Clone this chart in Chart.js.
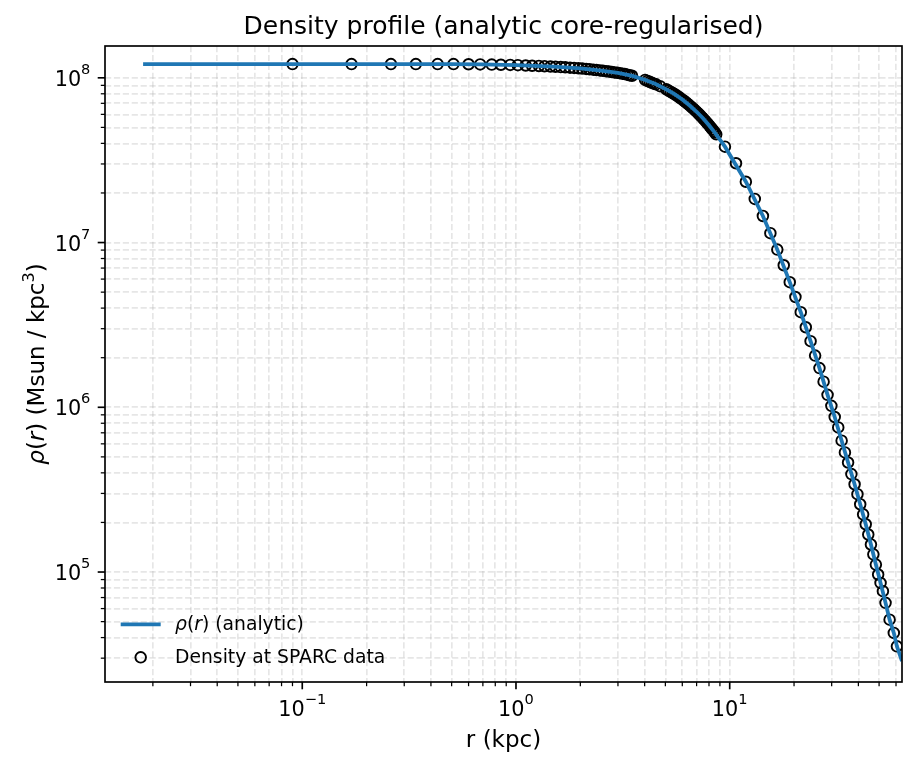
<!DOCTYPE html>
<html>
<head>
<meta charset="utf-8">
<title>Density profile</title>
<script src="https://cdn.jsdelivr.net/npm/chart.js@4.4.0/dist/chart.umd.min.js"></script>
<style>
  html, body { margin: 0; padding: 0; background: #fff; }
  #wrap { width: 917px; height: 767px; }
</style>
</head>
<body>
<div id="wrap"><canvas id="densityChart" width="917" height="767"></canvas></div>
<script>
// analytic rho(r) (kpc, Msun/kpc^3)
const lineR = [0.018, 0.1, 0.5, 0.7, 1.0, 1.5, 2.0, 2.5, 3.0, 3.5, 4.0, 4.5, 5.0, 5.5, 6.0, 6.5, 7.0, 7.5, 8.0, 8.5, 9.0,
    9.5, 11.9, 14.3, 16.7, 19.1, 21.5, 23.9, 26.3, 28.7, 31.0, 33.4, 35.8, 38.4, 40.8, 43.3, 45.8, 48.3, 50.8, 53.6, 56.0, 58.6, 60.6, 64.0];
const lineRho = [1.211e8, 1.211e8, 1.211e8, 1.205e8, 1.194e8, 1.169e8, 1.140e8, 1.107e8, 1.072e8, 1.028e8, 9.73e7, 9.16e7, 8.57e7, 7.98e7, 7.38e7, 6.79e7, 6.22e7, 5.68e7, 5.15e7, 4.66e7, 4.21e7,
    3.82e7, 2.34e7, 1.45e7, 9.06e6, 5.75e6, 3.78e6, 2.52e6, 1.73e6, 1.19e6, 8.73e5, 6.27e5, 4.62e5, 3.41e5, 2.58e5, 1.95e5, 1.47e5, 1.11e5, 8.59e4, 6.50e4, 5.14e4, 4.27e4, 3.54e4, 2.88e4];

// density at the SPARC radii
const dataR = [0.09, 0.17, 0.26, 0.34, 0.43, 0.51, 0.60, 0.68, 0.77, 0.85, 0.94, 1.02, 1.11, 1.19, 1.28, 1.36, 1.45, 1.53, 1.62, 1.70,
    1.79, 1.87, 1.96, 2.04, 2.13, 2.21, 2.30, 2.38, 2.47, 2.55, 2.64, 2.72, 2.81, 2.89, 2.98, 3.06, 3.15, 3.23, 3.32, 3.40, 3.49,
    4.02, 4.12, 4.22, 4.32, 4.42, 4.52, 4.72, 5.05, 5.17, 5.29, 5.41, 5.53, 5.65, 5.77, 5.89, 6.01, 6.13, 6.25, 6.37, 6.49, 6.61,
    6.73, 6.85, 6.97, 7.09, 7.21, 7.33, 7.45, 7.57, 7.69, 7.81, 7.93, 8.05, 8.17, 8.29, 8.41, 8.53, 8.65,
    9.5, 10.7, 11.9, 13.1, 14.3, 15.5, 16.7, 17.9, 19.1, 20.3, 21.5, 22.7, 23.9, 25.1, 26.3, 27.5, 28.7, 29.9, 31.0, 32.2,
    33.4, 34.6, 35.8, 37.1, 38.4, 39.6, 40.8, 42.1, 43.3, 44.5, 45.8, 47.0, 48.3, 49.5, 50.8, 52.1, 53.6, 56.0, 58.6, 60.6];
const dataRho = [1.211e8, 1.211e8, 1.211e8, 1.211e8, 1.211e8, 1.211e8, 1.209e8, 1.206e8, 1.203e8, 1.200e8, 1.197e8, 1.193e8, 1.188e8, 1.184e8, 1.180e8, 1.176e8, 1.171e8, 1.167e8, 1.162e8, 1.158e8,
    1.153e8, 1.148e8, 1.142e8, 1.138e8, 1.132e8, 1.127e8, 1.121e8, 1.115e8, 1.109e8, 1.103e8, 1.097e8, 1.091e8, 1.085e8, 1.079e8, 1.073e8, 1.067e8, 1.060e8, 1.053e8, 1.045e8, 1.037e8, 1.029e8,
    9.71e7, 9.58e7, 9.45e7, 9.33e7, 9.21e7, 9.13e7, 8.90e7, 8.51e7, 8.37e7, 8.23e7, 8.09e7, 7.95e7, 7.81e7, 7.66e7, 7.51e7, 7.37e7, 7.23e7, 7.08e7, 6.94e7, 6.80e7, 6.66e7,
    6.52e7, 6.39e7, 6.25e7, 6.12e7, 5.99e7, 5.86e7, 5.73e7, 5.60e7, 5.48e7, 5.35e7, 5.23e7, 5.10e7, 4.99e7, 4.87e7, 4.76e7, 4.65e7, 4.54e7,
    3.82e7, 3.03e7, 2.34e7, 1.84e7, 1.45e7, 1.14e7, 9.06e6, 7.28e6, 5.75e6, 4.67e6, 3.78e6, 3.06e6, 2.52e6, 2.06e6, 1.73e6, 1.43e6, 1.19e6, 1.02e6, 8.73e5, 7.55e5,
    6.27e5, 5.32e5, 4.62e5, 3.93e5, 3.41e5, 2.97e5, 2.58e5, 2.24e5, 1.95e5, 1.69e5, 1.47e5, 1.28e5, 1.11e5, 9.66e4, 8.59e4, 7.65e4, 6.50e4, 5.14e4, 4.27e4, 3.54e4];

// axes
const xMin = 0.01194, xMax = 64.0;
const yMin = 2.15e4, yMax = 1.56e8;
const xMajor = [0.1, 1, 10];
const xExponents = ['−1', '0', '1'];
const xMinor = [0.02, 0.03, 0.04, 0.05, 0.06, 0.07, 0.08, 0.09, 0.2, 0.3, 0.4, 0.5, 0.6, 0.7, 0.8, 0.9,
    2, 3, 4, 5, 6, 7, 8, 9, 20, 30, 40, 50, 60];
const yMajor = [1e5, 1e6, 1e7, 1e8];
const yExponents = ['5', '6', '7', '8'];
const yMinor = [3e4, 4e4, 5e4, 6e4, 7e4, 8e4, 9e4, 2e5, 3e5, 4e5, 5e5, 6e5, 7e5, 8e5, 9e5,
    2e6, 3e6, 4e6, 5e6, 6e6, 7e6, 8e6, 9e6, 2e7, 3e7, 4e7, 5e7, 6e7, 7e7, 8e7, 9e7];

const FAMILY = "'DejaVu Sans', sans-serif";
const font = (size, italic) => (italic ? 'italic ' : '') + size + 'px ' + FAMILY;
const BLUE = '#1f77b4';
const gridColor = 'rgba(176,176,176,0.32)';

// text made of several runs (italic / superscript parts)
function runsWidth(ctx, runs) {
    let w = 0;
    runs.forEach(r => { ctx.font = r.font; w += ctx.measureText(r.text).width; });
    return w;
}
function drawRuns(ctx, runs, x, y) {
    runs.forEach(r => {
        ctx.font = r.font;
        ctx.fillText(r.text, x, y - (r.rise || 0));
        x += ctx.measureText(r.text).width;
    });
}
const power = e => [{ text: '10', font: font(20.8) }, { text: e, font: font(14.6), rise: 12 }];

const decor = {
    id: 'decor',
    afterDraw(chart) {
        const { ctx, chartArea: a, scales: { x, y } } = chart;
        ctx.save();
        ctx.strokeStyle = '#000';
        ctx.fillStyle = '#000';
        ctx.textAlign = 'left';
        ctx.textBaseline = 'alphabetic';

        // tick marks, outward
        const tick = (scale, v, len, w) => {
            const p = scale.getPixelForValue(v);
            ctx.lineWidth = w;
            ctx.beginPath();
            if (scale.isHorizontal()) { ctx.moveTo(p, a.bottom); ctx.lineTo(p, a.bottom + len); }
            else { ctx.moveTo(a.left, p); ctx.lineTo(a.left - len, p); }
            ctx.stroke();
        };
        xMinor.forEach(v => tick(x, v, 4.2, 1.25));
        yMinor.forEach(v => tick(y, v, 4.2, 1.25));
        xMajor.forEach(v => tick(x, v, 7.3, 1.67));
        yMajor.forEach(v => tick(y, v, 7.3, 1.67));

        // tick labels 10^n
        xMajor.forEach((v, i) => {
            const runs = power(xExponents[i]);
            drawRuns(ctx, runs, x.getPixelForValue(v) - runsWidth(ctx, runs) / 2, a.bottom + 34);
        });
        yMajor.forEach((v, i) => {
            const runs = power(yExponents[i]);
            drawRuns(ctx, runs, a.left - 14.6 - runsWidth(ctx, runs), y.getPixelForValue(v) + 8);
        });

        // frame
        ctx.lineWidth = 1.67;
        ctx.strokeRect(a.left, a.top, a.right - a.left, a.bottom - a.top);

        // title
        ctx.font = font(25);
        ctx.textAlign = 'center';
        ctx.fillText('Density profile (analytic core-regularised)', (a.left + a.right) / 2, a.top - 12.5);
        ctx.textAlign = 'left';

        // y label
        const yl = [
            { text: 'ρ', font: font(23, true) },
            { text: '(', font: font(23) },
            { text: 'r', font: font(23, true) },
            { text: ') (Msun / kpc', font: font(23) },
            { text: '3', font: font(16.1), rise: 10 },
            { text: ')', font: font(23) }
        ];
        ctx.save();
        ctx.translate(44, (a.top + a.bottom) / 2);
        ctx.rotate(-Math.PI / 2);
        drawRuns(ctx, yl, -runsWidth(ctx, yl) / 2, 0);
        ctx.restore();

        // legend
        ctx.strokeStyle = BLUE;
        ctx.lineWidth = 3.8;
        ctx.beginPath();
        ctx.moveTo(120.7, 624.3); ctx.lineTo(160.7, 624.3);
        ctx.stroke();
        ctx.strokeStyle = '#000';
        ctx.lineWidth = 1.9;
        ctx.beginPath();
        ctx.arc(140.7, 657.3, 5.3, 0, Math.PI * 2);
        ctx.stroke();
        drawRuns(ctx, [
            { text: 'ρ', font: font(18.75, true) },
            { text: '(', font: font(18.75) },
            { text: 'r', font: font(18.75, true) },
            { text: ') (analytic)', font: font(18.75) }
        ], 175, 630);
        ctx.font = font(18.75);
        ctx.fillText('Density at SPARC data', 175, 662.5);
        ctx.restore();
    }
};

const ctx = document.getElementById('densityChart').getContext('2d');
new Chart(ctx, {
    type: 'scatter',
    data: {
        datasets: [{
            label: 'rho(r) (analytic)',
            data: lineR.map((r, i) => ({ x: r, y: lineRho[i] })),
            showLine: true,
            borderColor: BLUE,
            borderWidth: 3.8,
            pointRadius: 0,
            pointHoverRadius: 0,
            fill: false,
            tension: 0
        }, {
            label: 'Density at SPARC data',
            data: dataR.map((r, i) => ({ x: r, y: dataRho[i] })),
            showLine: false,
            pointRadius: 5.3,
            pointHoverRadius: 5.3,
            pointBorderWidth: 1.9,
            borderColor: '#000',
            backgroundColor: 'rgba(0,0,0,0)'
        }]
    },
    options: {
        responsive: false,
        animation: false,
        devicePixelRatio: 1,
        events: [],
        layout: { padding: { top: 46, right: 15, left: 0, bottom: 0 } },
        plugins: {
            legend: { display: false },
            title: { display: false },
            tooltip: { enabled: false }
        },
        scales: {
            x: {
                type: 'logarithmic',
                position: 'bottom',
                min: xMin,
                max: xMax,
                bounds: 'data',
                afterBuildTicks: s => { s.ticks = xMinor.concat(xMajor).sort((a, b) => a - b).map(v => ({ value: v })); },
                afterFit: s => { s.height = 85; },
                ticks: { autoSkip: false, maxRotation: 0, callback: () => '' },
                grid: { color: gridColor, lineWidth: 1.67, drawTicks: false },
                border: { display: false, dash: [6.2, 2.7] },
                title: {
                    display: true,
                    text: 'r (kpc)',
                    color: '#000',
                    font: { family: FAMILY, size: 23 },
                    padding: { top: 0, bottom: 12.5 }
                }
            },
            y: {
                type: 'logarithmic',
                min: yMin,
                max: yMax,
                bounds: 'data',
                afterBuildTicks: s => { s.ticks = yMinor.concat(yMajor).sort((a, b) => a - b).map(v => ({ value: v })); },
                afterFit: s => { s.width = 105; },
                ticks: { autoSkip: false, callback: () => '' },
                grid: { color: gridColor, lineWidth: 1.67, drawTicks: false },
                border: { display: false, dash: [6.2, 2.7] }
            }
        }
    },
    plugins: [decor]
});
</script>
</body>
</html>
